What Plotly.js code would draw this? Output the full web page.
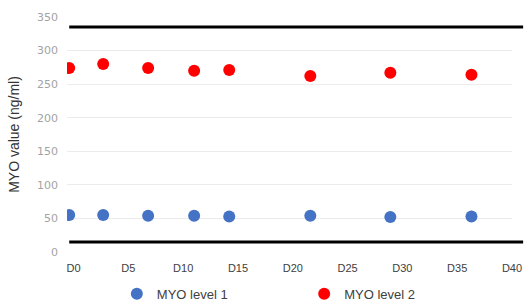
<!DOCTYPE html>
<html><head><meta charset="utf-8">
<script src="https://cdn.plot.ly/plotly-3.0.1.min.js"></script>
<style>html,body{margin:0;padding:0;background:#fff}#c{width:526px;height:305px}</style>
</head><body><div id="c"></div>
<script>
const days = [-0.4, 2.7, 6.8, 11.0, 14.2, 21.6, 28.9, 36.3];
const level1 = [55, 55, 54, 54, 53, 54, 52, 53];
const level2 = [274, 280, 274, 270, 271, 262, 267, 264];
const tickVals = [0, 5, 10, 15, 20, 25, 30, 35, 40];
const tickText = ["D0","D5","D10","D15","D20","D25","D30","D35","D40"];
const limits = [15, 335];

const traces = [
  {x: days, y: level1, mode: 'markers', type: 'scatter', name: 'MYO level 1', legend: 'legend',
   marker: {color: '#4472C4', size: 12}},
  {x: days, y: level2, mode: 'markers', type: 'scatter', name: 'MYO level 2', legend: 'legend2',
   marker: {color: '#FF0000', size: 12}}
];
const shapes = limits.map(v => ({type: 'line', xref: 'paper', x0: 0.005, x1: 1.025, yref: 'y', y0: v, y1: v,
  line: {color: '#000', width: 3}}));
const legFont = {family: 'Liberation Sans, Arial', size: 13, color: '#404040'};
const layout = {
  width: 526, height: 305,
  margin: {l: 67, r: 14, t: 17, b: 53},
  paper_bgcolor: '#fff', plot_bgcolor: '#fff',
  showlegend: true,
  xaxis: {range: [-0.6, 40], tickvals: tickVals, ticktext: tickText, showgrid: false, zeroline: false,
    showline: false, ticks: '', automargin: false, ticklabelstandoff: 8,
    tickfont: {family: 'Liberation Sans, Arial', size: 11, color: '#404040'}},
  yaxis: {range: [0, 350], dtick: 50, showgrid: true, gridcolor: '#ececec', gridwidth: 1, zeroline: false,
    ticks: '', ticklabelstandoff: 8, automargin: false,
    tickfont: {family: 'DejaVu Sans, sans-serif', size: 11, color: '#a3a3a3'},
    title: {text: 'MYO value (ng/ml)', font: {family: 'Liberation Sans, Arial', size: 14, color: '#333333'}, standoff: 14}},
  legend: {orientation: 'h', xref: 'paper', x: 0.112, xanchor: 'left', yref: 'container', y: 0.037, yanchor: 'middle',
    font: legFont, bgcolor: 'rgba(0,0,0,0)'},
  legend2: {orientation: 'h', xref: 'paper', x: 0.533, xanchor: 'left', yref: 'container', y: 0.037, yanchor: 'middle',
    font: legFont, bgcolor: 'rgba(0,0,0,0)'},
  shapes: shapes
};
Plotly.newPlot('c', traces, layout, {displayModeBar: false, staticPlot: true});
</script></body></html>
